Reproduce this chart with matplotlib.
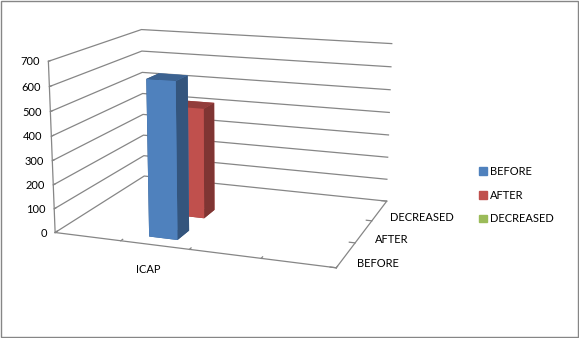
import numpy as np
import matplotlib
matplotlib.use("Agg")
import matplotlib.pyplot as plt
from matplotlib.patches import Rectangle
from matplotlib.colors import to_rgb

categories = ["", "ICAP", "", ""]
series = ["BEFORE", "AFTER", "DECREASED"]
before = [np.nan, 640, np.nan, np.nan]
after = [np.nan, 470, np.nan, np.nan]
decreased = [np.nan, 0, np.nan, np.nan]
zticks = [0, 100, 200, 300, 400, 500, 600, 700]
colors = ["#4F81BD", "#C0504D", "#9BBB59"]

plt.rcParams['font.family'] = ['Lato', 'DejaVu Sans']
fs = 8


def faces(c):
    base = np.array(to_rgb(c))
    top = base * 0.76
    side = base * 0.66
    # order used by bar3d: bottom, top, front, back, left, right
    return [tuple(top), tuple(top), tuple(base), tuple(base), tuple(side), tuple(side)]


fig = plt.figure(figsize=(5.79, 3.38), dpi=100)
fig.patch.set_facecolor("white")
ax = fig.add_axes([0.011, 0.075, 0.75, 1.02], projection='3d')
ax.set_proj_type('persp', focal_length=0.6)
ax.view_init(elev=14, azim=-70)
ax.set_box_aspect((4, 3.0, 2.4), zoom=1.1)

gray = "#868686"
data = [before, after, decreased]
bw = 0.42
bd = 0.42
for j, vals in enumerate(data):
    for i, v in enumerate(vals):
        if np.isnan(v) or v <= 0:
            continue
        ax.bar3d(i + 0.5 - bw / 2, j + 0.5 - bd / 2, 0, bw, bd, v,
                 color=faces(colors[j]), shade=False, edgecolor='none')

ax.set_xlim(0, len(categories))
ax.set_ylim(0, len(series))
ax.set_zlim(0, 700)
# tick marks at slot boundaries, labels at slot centres
ax.set_xticks(np.arange(len(categories) + 1))
ax.set_xticklabels([""] * (len(categories) + 1))
ax.set_xticks(np.arange(len(categories)) + 0.5, minor=True)
ax.set_xticklabels(categories, minor=True, fontsize=fs)
ax.set_yticks(np.arange(len(series) + 1))
ax.set_yticklabels([""] * (len(series) + 1))
ax.set_yticks(np.arange(len(series)) + 0.5, minor=True)
ax.set_yticklabels(series, minor=True, fontsize=fs, ha='left', va='center')
ax.set_zticks(zticks)
ax.set_zticklabels([str(t) for t in zticks], fontsize=fs, ha='right', va='center')
ax.zaxis.set_ticks_position('lower')
ax.zaxis.set_label_position('lower')

for axis in (ax.xaxis, ax.yaxis, ax.zaxis):
    axis.set_pane_color((1, 1, 1, 0))
    axis.pane.set_edgecolor((1, 1, 1, 0))
    axis.line.set_color(gray)
    axis.line.set_linewidth(0.9)
    axis._axinfo['tick']['outward_factor'] = 0.25
    axis._axinfo['tick']['inward_factor'] = 0.0
    axis._axinfo['tick']['linewidth'] = {True: 0.9, False: 0.0}
    axis._axinfo['tick']['color'] = gray
    axis.set_tick_params(which='both', colors='#000000')
    axis.set_tick_params(which='both', color=gray)
ax.xaxis.set_tick_params(which='both', pad=2)
ax.yaxis.set_tick_params(which='both', pad=-3)
ax.zaxis.set_tick_params(which='both', pad=-5)
ax.xaxis._axinfo['grid']['color'] = (1, 1, 1, 0)
ax.yaxis._axinfo['grid']['color'] = (1, 1, 1, 0)
ax.zaxis._axinfo['grid']['color'] = gray
ax.zaxis._axinfo['grid']['linewidth'] = 0.9
ax.grid(True)

handles = [Rectangle((0, 0), 1, 1, color=c) for c in colors]
fig.legend(handles, series, loc='center left', bbox_to_anchor=(0.81, 0.423),
           frameon=False, fontsize=fs, handlelength=0.7, handleheight=0.7,
           handletextpad=0.3, labelspacing=1.15)

fig.add_artist(Rectangle((0.001, 0.002), 0.997, 0.995, transform=fig.transFigure,
                         fill=False, edgecolor=gray, linewidth=1.0))
fig.savefig("out.png", dpi=100)
